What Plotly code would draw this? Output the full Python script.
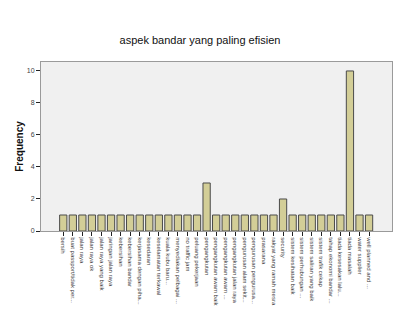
import plotly.graph_objects as go

categories = [
    "bersih",
    "buat passport/tidak per...",
    "jalan raya",
    "jalan raya ok",
    "jalan raya yang baik",
    "jaringan jalan raya",
    "kebersihan",
    "kebersihan bandar",
    "kerjasama dengan piha...",
    "kesedaran",
    "keselamatan terkawal",
    "kuala kubu baru...",
    "menyediakan pelbagai ...",
    "no traffic jam",
    "peluang pekerjaan",
    "pengangkutan",
    "pengangkutan awam baik",
    "pengangkutan awam ...",
    "pengangkutan jalan raya",
    "pengurusan alam sekit...",
    "pengurusan pengurusa...",
    "prasarana",
    "rakyat yang ramah mesra",
    "security",
    "sistem kesihatan baik",
    "sistem perhubungan ...",
    "sistem saliran yang baik",
    "sistem trafik cekap",
    "tahap ekonomi bandar ...",
    "tiada kesesakan lalu...",
    "tiada masalah",
    "water supplier",
    "well planned and ...",
]
frequency = [1, 1, 1, 1, 1, 1, 1, 1, 1, 1, 1, 1, 1, 1, 1, 3, 1, 1, 1, 1, 1, 1, 1,
             2, 1, 1, 1, 1, 1, 1, 10, 1, 1]
y_ticks = [0, 2, 4, 6, 8, 10]

FONT = "Liberation Sans, Arial, sans-serif"

fig = go.Figure(go.Bar(
    x=categories,
    y=frequency,
    marker=dict(color="#d3ce97", line=dict(color="#4a4a4a", width=1)),
))

fig.update_layout(
    width=400, height=320,
    margin=dict(l=41, r=8, t=62, b=89),
    paper_bgcolor="white",
    plot_bgcolor="#f0f0f0",
    bargap=0.24,
    showlegend=False,
    font=dict(family=FONT, color="#333333"),
    title=dict(text="aspek bandar yang paling efisien",
               x=0.5, xanchor="center", xref="container",
               y=1 - 40 / 320, yanchor="middle", yref="container",
               font=dict(family=FONT, size=11, color="#111111")),
)

fig.update_xaxes(
    type="category",
    tickmode="array", tickvals=categories, ticktext=categories,
    tickangle=90,
    tickfont=dict(size=6, color="#444444"),
    ticks="outside", ticklen=4, tickcolor="#222222",
    range=[-2.33, len(categories) - 1 + 2.4],
    showline=True, linecolor="#9a9a9a", linewidth=1, mirror=True,
    showgrid=False, zeroline=False,
)
fig.update_yaxes(
    range=[0, 10.56],
    tickmode="array", tickvals=y_ticks,
    tickfont=dict(size=7, color="#444444"),
    ticks="outside", ticklen=4, tickcolor="#222222",
    showline=True, linecolor="#9a9a9a", linewidth=1, mirror=True,
    showgrid=False, zeroline=False,
    title=dict(text="<b>Frequency</b>", font=dict(family=FONT, size=10, color="#111111"),
               standoff=1),
)

fig.write_html("out.html")
